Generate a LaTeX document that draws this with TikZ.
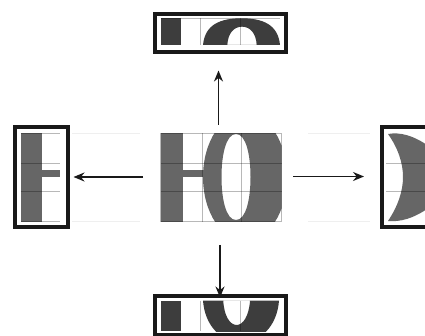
\documentclass[tikz,border=0pt]{standalone}
\usetikzlibrary{arrows.meta}
\definecolor{glyph}{HTML}{666666}
\definecolor{glyphdark}{HTML}{3D3D3D}
\definecolor{faint}{HTML}{EFEFEF}
\begin{document}
\begin{tikzpicture}[x=1pt,y=-1pt,
  frame/.style={draw=black!90, line width=4pt},
  gridline/.style={draw=black, opacity=0.28, line width=0.6pt},
  faintline/.style={draw=faint, line width=0.8pt},
  arrowline/.style={draw=black!90, line width=1.6pt, -{Stealth[length=11pt,width=9pt]}}]
\useasboundingbox (0,0) rectangle (425,336);

% faint guide lines running out from the centre glyphs
\draw[faintline] (72,133.3) -- (140,133.3) (72,221.7) -- (140,221.7);
\draw[faintline] (308,133.3) -- (370,133.3) (308,221.7) -- (370,221.7);

% ---- centre: "HO" on its grid ----
\begin{scope}
  \clip (160.7,133.3) rectangle (281.7,221.7);
  \fill[glyph] (160.7,133.3) rectangle (182.7,221.7);
  \fill[glyph] (182.7,170) rectangle (205,177);
  \fill[glyph,even odd rule] (245,177) ellipse [x radius=42, y radius=64]
    (236,134) .. controls (246,134) and (250.5,155) .. (250.5,177)
              .. controls (250.5,199) and (246,220) .. (236,220)
              .. controls (226,220) and (221.5,199) .. (221.5,177)
              .. controls (221.5,155) and (226,134) .. (236,134) -- cycle;
\end{scope}
\draw[gridline] (160.7,133.3) rectangle (281.7,221.7);
\draw[gridline] (202,133.3) -- (202,221.7) (241.7,133.3) -- (241.7,221.7);
\draw[gridline] (160.7,163.3) -- (281.7,163.3) (160.7,191.7) -- (281.7,191.7);

% ---- top detail: upper edge ----
\begin{scope}
  \clip (160.7,18.3) rectangle (280,45);
  \fill[glyphdark] (160.7,18.3) rectangle (180.7,45);
  \fill[glyphdark,even odd rule]
    (203,45) .. controls (205,24) and (221,18.3) .. (241.5,18.3)
             .. controls (262,18.3) and (278,24) .. (280,45) -- cycle
    (227.3,45) .. controls (228,33) and (234,26.7) .. (242,26.7)
               .. controls (250,26.7) and (256,33) .. (256.7,45) -- cycle;
\end{scope}
\draw[gridline] (160.7,18.3) -- (280,18.3);
\draw[gridline] (200,18.3) -- (200,45) (240,18.3) -- (240,45);
\node[frame, inner sep=0, minimum width=131.5pt, minimum height=38.5pt] (topbox) at (220.45,32.95) {};

% ---- bottom detail: lower edge ----
\begin{scope}
  \clip (160.7,300.7) rectangle (280,331);
  \fill[glyphdark] (160.7,300.7) rectangle (180.7,331);
  \fill[glyphdark,even odd rule]
    (203,300.7) .. controls (205,326) and (221,342) .. (241,342)
                .. controls (261,342) and (277,326) .. (279,300.7) -- cycle
    (223.3,300.7) .. controls (224,316) and (230,325) .. (236.7,325)
                  .. controls (243,325) and (249,316) .. (250,300.7) -- cycle;
\end{scope}
\draw[gridline] (200,300.7) -- (200,331) (240,300.7) -- (240,331);
\node[frame, inner sep=0, minimum width=130.8pt, minimum height=38.3pt] (botbox) at (220.1,315.35) {};

% ---- left detail: stem and bar of H ----
\fill[glyph] (20.7,133.3) rectangle (41.7,221.7);
\fill[glyph] (41.7,170) rectangle (60,176.7);
\foreach \yy in {133.3,163.3,191.7,221.7}
  \draw[gridline] (20.7,\yy) -- (60,\yy);
\node[frame, inner sep=0, minimum width=52.7pt, minimum height=100pt] (leftbox) at (41.65,177) {};

% ---- right detail: right stroke of O ----
\begin{scope}
  \clip (0,0) rectangle (425,336);
  \begin{scope}
    \clip (386,133.3) rectangle (425,221.7);
    \fill[glyph] (388,134) .. controls (400,132) and (413,135) .. (430,147)
      -- (430,207) .. controls (413,219) and (400,222) .. (388,221)
      .. controls (398,206) and (403,191) .. (403,177)
      .. controls (403,163) and (398,148) .. (388,134) -- cycle;
  \end{scope}
  \draw[gridline] (386,163.3) -- (425,163.3) (386,191.7) -- (425,191.7);
  \node[frame, inner sep=0, minimum width=100pt, minimum height=100pt, anchor=west] (rightbox) at (380.3,177) {};
\end{scope}

% ---- arrows from the centre to each detail ----
\coordinate (c-top) at (218.5,125);
\coordinate (c-bot) at (220,245);
\coordinate (c-left) at (143,177);
\coordinate (c-right) at (293,176.5);
\coordinate (e-top) at (218.5,70.5);
\coordinate (e-bot) at (220,297.5);
\coordinate (e-left) at (73.5,177);
\coordinate (e-right) at (364,176.5);
\draw[arrowline] (c-top) -- (e-top);
\draw[arrowline] (c-bot) -- (e-bot);
\draw[arrowline] (c-left) -- (e-left);
\draw[arrowline] (c-right) -- (e-right);
\end{tikzpicture}
\end{document}
